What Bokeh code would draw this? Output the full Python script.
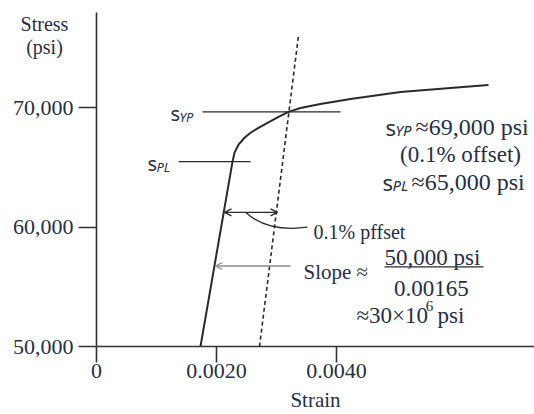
from bokeh.plotting import figure
from bokeh.models import Range1d, FixedTicker, Label, Arrow, OpenHead, GridBox, Div
from bokeh.embed import file_html
from bokeh.resources import INLINE

# ---- data ----
strain = [0.001733, 0.002267, 0.0023, 0.002367, 0.002467, 0.002567, 0.0027,
          0.00285, 0.003033, 0.0032, 0.0034, 0.003733, 0.004233, 0.005067,
          0.0059, 0.006533]
stress = [50000, 65500, 66250, 66917, 67500, 67917, 68333,
          68750, 69250, 69667, 70000, 70333, 70750, 71333,
          71667, 71917]
offset_strain = [0.002717, 0.003367]
offset_stress = [50000, 76083]
yp_stress = 69667
yp_span = [0.001767, 0.004067]
pl_stress = 65500
pl_span = [0.001367, 0.002567]
x_ticks = [0, 0.002, 0.004]
x_tick_labels = ["0", "0.0020", "0.0040"]
y_ticks = [50000, 60000, 70000]
y_tick_labels = ["50,000", "60,000", "70,000"]
y_title = ["Stress", "(psi)"]
x_title = "Strain"

TXT = "#262f45"
LINE = "#2a2a2a"
SERIF = "Liberation Serif"
SANS = "Noto Sans"
W, H = 534, 414

p = figure(width=W, height=H, output_backend="svg", toolbar_location=None,
           x_range=Range1d(0, 0.0073), y_range=Range1d(50000, 78000),
           min_border_left=96, min_border_right=0, min_border_top=12,
           min_border_bottom=66)
p.outline_line_color = None
p.grid.visible = False
p.background_fill_color = "white"
p.border_fill_color = "white"

for ax in (p.xaxis[0], p.yaxis[0]):
    ax.axis_line_color = "#333333"
    ax.axis_line_width = 1.6
    ax.major_tick_line_color = "#333333"
    ax.major_tick_line_width = 1.6
    ax.minor_tick_line_color = None
    ax.major_tick_in = 0
    ax.major_label_text_font = SERIF
    ax.major_label_text_font_size = "22px"
    ax.major_label_text_color = TXT

p.xaxis.ticker = FixedTicker(ticks=x_ticks)
p.xaxis.major_label_overrides = dict(zip(x_ticks, x_tick_labels))
p.xaxis.major_tick_out = 16
p.xaxis.major_label_standoff = 1
p.xaxis.axis_label = x_title
p.xaxis.axis_label_text_font = SERIF
p.xaxis.axis_label_text_font_size = "21px"
p.xaxis.axis_label_text_font_style = "normal"
p.xaxis.axis_label_text_color = TXT
p.xaxis.axis_label_standoff = 7
p.yaxis.ticker = FixedTicker(ticks=y_ticks)
p.yaxis.major_label_overrides = dict(zip(y_ticks, y_tick_labels))
p.yaxis.major_tick_out = 18
p.yaxis.major_label_standoff = 5

# curve
p.line(strain, stress, line_color=LINE, line_width=2)
# offset (dashed)
p.line(offset_strain, offset_stress, line_color=LINE, line_width=1.6, line_dash="4 3")
# yield / proportional limit lines
p.line(yp_span, [yp_stress, yp_stress], line_color=LINE, line_width=1.3)
p.line(pl_span, [pl_stress, pl_stress], line_color=LINE, line_width=1.3)

# offset double arrow
p.add_layout(Arrow(x_start=0.002133, y_start=61250, x_end=0.003017, y_end=61250,
                   start=OpenHead(size=7, line_width=1.3, line_color=LINE),
                   end=OpenHead(size=7, line_width=1.3, line_color=LINE),
                   line_color=LINE, line_width=1.3))
# curved leader
p.bezier(x0=[0.002483], y0=[61250], x1=[0.003517], y1=[60000],
         cx0=[0.0028], cy0=[59800], cx1=[0.003217], cy1=[59800],
         line_color=LINE, line_width=1.3)
# slope arrow
p.add_layout(Arrow(x_start=0.003233, y_start=56750, x_end=0.001983, y_end=56750,
                   end=OpenHead(size=7, line_width=1.3, line_color="#8c8c8c"),
                   line_color="#8c8c8c", line_width=1.6))
# fraction bar
p.line([0.0048, 0.00645], [56667, 56667], line_color=LINE, line_width=1.3)


def lab(x, y, text, size, font=SERIF, align="left", style="normal"):
    p.add_layout(Label(x=x, y=y, text=text, text_font=font, text_font_size=size,
                       text_color=TXT, text_align=align, text_baseline="alphabetic",
                       text_font_style=style))


# s_YP / s_PL tags on the lines
lab(0.001233, 69500, "s", "20px", font=SANS)
lab(0.001383, 69250, "YP", "13px", font=SANS, style="italic")
lab(0.00085, 65333, "s", "20px", font=SANS)
lab(0.001, 65083, "PL", "13px", font=SANS, style="italic")

# right text block
lab(0.004817, 68417, "s", "22px", font=SANS)
lab(0.004983, 68167, "YP", "15px", font=SANS, style="italic")
lab(0.005317, 68417, "\u224869,000 psi", "24px")
lab(0.006067, 66083, "(0.1% offset)", "23px", align="center")
lab(0.004767, 63750, "s", "22px", font=SANS)
lab(0.004933, 63500, "PL", "15px", font=SANS, style="italic")
lab(0.00525, 63750, "\u224865,000 psi", "24px")

# offset / slope annotations
lab(0.003617, 59583, "0.1% pffset", "20px")
lab(0.00345, 56250, "Slope \u2248", "21px")
lab(0.0056, 57500, "50,000 psi", "23px", align="center")
lab(0.005583, 54833, "0.00165", "23px", align="center")
lab(0.004333, 52583, "\u224830\u00d710", "23px")
lab(0.005487, 53417, "6", "15px")
lab(0.005683, 52583, "psi", "23px")

# y-axis title sitting in the left margin, above the tick labels
ytitle = Div(text="<br>".join(y_title), width=89, height=62, margin=(0, 0, 0, 0),
             align="start",
             styles={"font-family": SERIF, "font-size": "20px", "line-height": "23px",
                     "color": TXT, "text-align": "center", "padding-top": "13px",
                     "background": "transparent"})

layout = GridBox(children=[(p, 0, 0), (ytitle, 0, 0)])
open("out.html", "w").write(file_html(layout, INLINE))
